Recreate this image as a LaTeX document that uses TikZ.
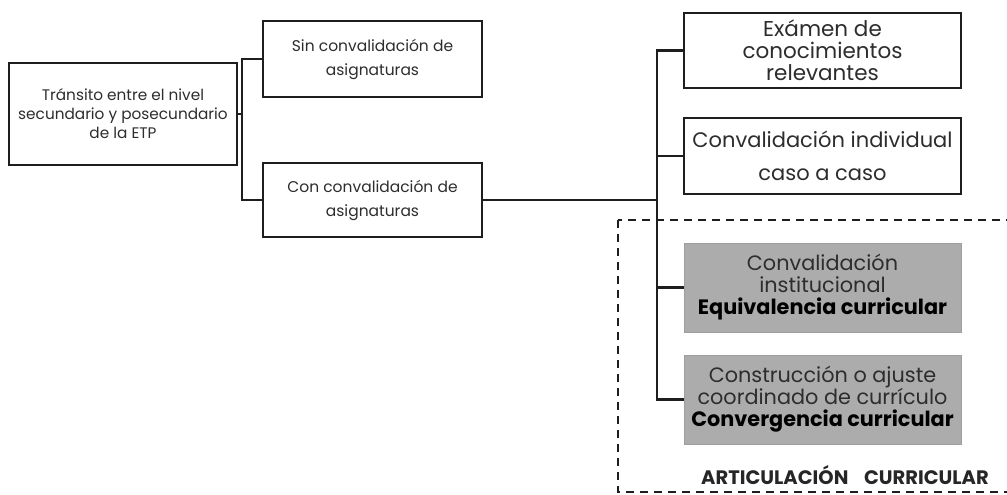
\documentclass[tikz,border=0pt]{standalone}
\usepackage{fontspec}
\setmainfont{Poppins}
\definecolor{txt}{RGB}{45,45,45}
\definecolor{edge}{RGB}{30,30,30}
\definecolor{grayfill}{RGB}{172,172,172}
\definecolor{grayedge}{RGB}{158,158,158}
\begin{document}
\begin{tikzpicture}[x=1pt,y=-1pt,
  wbox/.style={draw=edge,line width=2.4pt,fill=white,align=center,inner sep=0pt,text=txt},
  gbox/.style={draw=grayedge,line width=1pt,fill=grayfill,align=center,inner sep=0pt,text=txt},
  link/.style={draw=edge,line width=2.4pt},
  frame/.style={draw=edge,line width=2.6pt,dash pattern=on 8pt off 6pt}]
\useasboundingbox (0,0) rectangle (1007,495);
\draw[frame] (618,220) rectangle (1020,492);
\node[wbox,minimum width=228pt,minimum height=102pt,font=\fontsize{15.3}{19}\selectfont] (root) at (123,114)
  {Tránsito entre el nivel\\secundario y posecundario\\de la ETP};
\node[wbox,minimum width=219pt,minimum height=76pt,font=\fontsize{15.5}{24}\selectfont] (sin) at (372.5,59)
  {Sin convalidación de\\asignaturas};
\node[wbox,minimum width=219pt,minimum height=74pt,font=\fontsize{15.5}{24}\selectfont] (con) at (372.5,200)
  {Con convalidación de\\asignaturas};
\node[wbox,minimum width=277pt,minimum height=75pt,font=\fontsize{21.5}{22}\selectfont] (exa) at (822.5,50.5)
  {Exámen de\\conocimientos\\relevantes};
\node[wbox,minimum width=277pt,minimum height=76pt,font=\fontsize{21}{33}\selectfont] (ind) at (822.5,156)
  {Convalidación individual\\caso a caso};
\node[gbox,minimum width=277pt,minimum height=89pt,font=\fontsize{20.8}{22}\selectfont] (inst) at (822.5,287.5)
  {Convalidación\\institucional\\\textbf{\color{black}Equivalencia curricular}};
\node[gbox,minimum width=277pt,minimum height=89pt,font=\fontsize{20.8}{22}\selectfont] (cons) at (822.5,399.5)
  {Construcción o ajuste\\coordinado de currículo\\\textbf{\color{black}Convergencia curricular}};
\node[font=\fontsize{19.5}{20}\selectfont\bfseries,text=black!85,inner sep=0pt] (lab) at (845,475)
  {ARTICULACIÓN\hspace{0.8em}CURRICULAR};
\coordinate (j1) at (242,114);
\coordinate (j2) at (657,200);
\draw[link] (root.east) -- (j1);
\draw[link] (sin.west) -| (j1);
\draw[link] (con.west) -| (j1);
\draw[link] (con.east) -- (j2);
\draw[link] (exa.west) -| (j2);
\draw[link] (ind.west) -| (j2);
\draw[link] (inst.west) -| (j2);
\draw[link] (cons.west) -| (j2);
\end{tikzpicture}
\end{document}
